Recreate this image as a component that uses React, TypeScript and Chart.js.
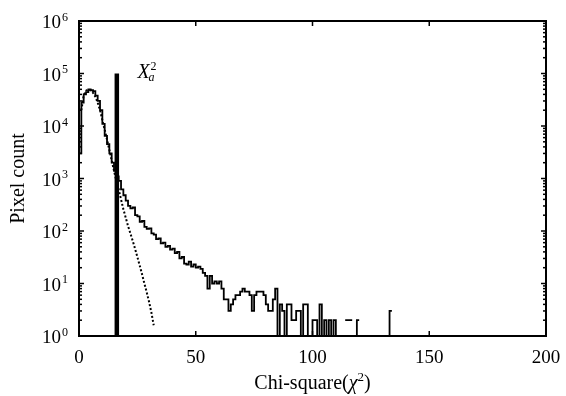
import { useEffect, useRef } from "react";
import { Chart, registerables } from "chart.js";

Chart.register(...registerables);

// ---------- data ----------
const binStart = 0;
const binWidth = 1;
// pixel counts per chi-square bin (0 = empty bin, not drawn on log axis)
const pixelCounts = [
  3000, 28000, 40000, 44000, 50000, 48000, 46000, 38000, 30000, 20000,
  11000, 6500, 4500, 3000, 2000, 1400, 1100, 900, 620, 480,
  380, 300, 270, 280, 200, 190, 150, 155, 120, 110,
  112, 90, 85, 70, 72, 58, 60, 50, 52, 44,
  46, 38, 40, 30, 32, 24, 23, 26, 21, 23,
  20, 21, 19, 16, 14, 8, 14, 10, 11, 10,
  11, 8, 5, 5, 3, 4, 5, 6, 6, 7,
  8, 7, 7, 6, 3, 6, 7, 7, 7, 6,
  4, 3, 3, 5, 8, 1, 4, 3, 1, 4,
  4, 2, 2, 3, 3, 1, 4, 4, 1, 1,
  2, 2, 1, 4, 1, 2, 1, 2, 1, 2,
  1, 0, 0, 0, 2, 2, 2, 0, 1, 2,
  0, 0, 0, 0, 0, 0, 0, 0, 0, 0,
  0, 0, 1, 3, 0,
];
// fitted chi-square distribution (dotted)
const fitX = [
  1, 2, 3, 4, 5, 6, 7, 8, 9, 10, 11, 12, 13, 14, 15, 16,
  17, 18, 19, 20, 21, 22, 23, 24, 25, 26, 27, 28, 29, 30, 31, 32,
];
const fitY = [
  20000, 38000, 47000, 50000, 48000, 43000, 36000, 28000, 20000, 13000, 8500,
  5500, 3500, 2200, 1400, 900, 620, 400, 260, 180, 125, 90, 65, 46, 32, 22, 15,
  10, 6.8, 4.5, 2.8, 1.6,
];
// threshold X_a^2
const thresholdX = 16.2;
const thresholdTop = 100000;
const labelAnchor = { x: 25, y: 82000 };

const xTickValues = [0, 50, 100, 150, 200];
const yExponents = [0, 1, 2, 3, 4, 5, 6];
const xMin = 0;
const xMax = 200;
const yMin = 1;
const yMax = 1000000;

const SERIF = '"Liberation Serif", "Times New Roman", serif';

function histogramPoints() {
  const pts: { x: number; y: number | null }[] = [];
  pixelCounts.forEach((c, i) => {
    const x0 = binStart + i * binWidth;
    const x1 = x0 + binWidth;
    if (c > 0) {
      pts.push({ x: x0, y: c });
      pts.push({ x: x1, y: c });
    } else {
      pts.push({ x: x0 + binWidth / 2, y: null });
    }
  });
  return pts;
}

const framePlugin = {
  id: "frameAndText",
  afterDatasetsDraw(chart: any) {
    const { ctx, chartArea: a, scales } = chart;
    const xs = scales.x;
    const ys = scales.y;
    ctx.save();
    ctx.strokeStyle = "#000";
    ctx.fillStyle = "#000";
    const line = (x1: number, y1: number, x2: number, y2: number) => {
      ctx.beginPath();
      ctx.moveTo(x1, y1);
      ctx.lineTo(x2, y2);
      ctx.stroke();
    };
    // ticks
    ctx.lineWidth = 1.5;
    for (const v of xTickValues) {
      const px = xs.getPixelForValue(v);
      line(px, a.bottom, px, a.bottom - 5);
      line(px, a.top, px, a.top + 5);
    }
    for (let e = 0; e < 6; e++) {
      for (let m = 1; m <= 9; m++) {
        const py = ys.getPixelForValue(m * Math.pow(10, e));
        const len = m === 1 ? 5 : 3;
        line(a.left, py, a.left + len, py);
        line(a.right, py, a.right - len, py);
      }
    }
    // frame
    ctx.lineWidth = 2;
    ctx.strokeRect(a.left, a.top, a.right - a.left, a.bottom - a.top);

    // x tick labels
    ctx.font = `19px ${SERIF}`;
    ctx.textAlign = "center";
    ctx.textBaseline = "alphabetic";
    for (const v of xTickValues) {
      ctx.fillText(String(v), xs.getPixelForValue(v), a.bottom + 27);
    }
    // y tick labels 10^n
    for (const e of yExponents) {
      const py = ys.getPixelForValue(Math.pow(10, e));
      const supX = a.left - 17;
      ctx.font = `19px ${SERIF}`;
      ctx.textAlign = "right";
      ctx.fillText("10", supX - 1, py + 7);
      ctx.font = `12px ${SERIF}`;
      ctx.textAlign = "left";
      ctx.fillText(String(e), supX, py - 0.5);
    }
    // x title
    const cx = (a.left + a.right) / 2;
    const base = a.bottom + 53;
    const parts = [
      { t: "Chi-square(", f: `20px ${SERIF}`, dy: 0 },
      { t: "\u03c7", f: `italic 20px ${SERIF}`, dy: 0 },
      { t: "2", f: `13px ${SERIF}`, dy: -8 },
      { t: ")", f: `20px ${SERIF}`, dy: 0 },
    ];
    let total = 0;
    for (const p of parts) {
      ctx.font = p.f;
      total += ctx.measureText(p.t).width;
    }
    let x = cx - total / 2;
    ctx.textAlign = "left";
    for (const p of parts) {
      ctx.font = p.f;
      ctx.fillText(p.t, x, base + p.dy);
      x += ctx.measureText(p.t).width;
    }
    // y title
    ctx.save();
    ctx.translate(19, (a.top + a.bottom) / 2);
    ctx.rotate(-Math.PI / 2);
    ctx.font = `20px ${SERIF}`;
    ctx.textAlign = "center";
    ctx.textBaseline = "middle";
    ctx.fillText("Pixel count", 0, 0);
    ctx.restore();

    // X_a^2 annotation
    const lx = xs.getPixelForValue(labelAnchor.x);
    const ly = ys.getPixelForValue(labelAnchor.y);
    ctx.textAlign = "left";
    ctx.textBaseline = "alphabetic";
    ctx.font = `italic 20px ${SERIF}`;
    ctx.fillText("X", lx, ly);
    const w = ctx.measureText("X").width;
    ctx.font = `12px ${SERIF}`;
    ctx.fillText("2", lx + w + 1, ly - 8);
    ctx.font = `italic 12px ${SERIF}`;
    ctx.fillText("a", lx + w - 1, ly + 3);
    ctx.restore();
  },
};

export default function App() {
  const ref = useRef<HTMLCanvasElement | null>(null);
  useEffect(() => {
    document.body.style.margin = "0";
    const canvas = ref.current;
    if (!canvas) return;
    const chart = new Chart(canvas, {
      type: "line",
      data: {
        datasets: [
          {
            label: "threshold",
            data: [
              { x: thresholdX, y: yMin },
              { x: thresholdX, y: thresholdTop },
            ],
            borderColor: "#000",
            borderWidth: 4.5,
            pointRadius: 0,
            borderCapStyle: "butt",
          },
          {
            label: "histogram",
            data: histogramPoints(),
            borderColor: "#000",
            borderWidth: 1.8,
            pointRadius: 0,
            spanGaps: false,
            tension: 0,
          },
          {
            label: "fit",
            data: fitX.map((v, i) => ({ x: v, y: fitY[i] })),
            borderColor: "#000",
            borderWidth: 2,
            borderDash: [2, 2],
            borderCapStyle: "butt",
            pointRadius: 0,
            tension: 0,
          },
        ],
      },
      options: {
        responsive: false,
        animation: false,
        parsing: true,
        layout: { padding: { left: 79, right: 20, top: 21, bottom: 60 } },
        plugins: { legend: { display: false }, tooltip: { enabled: false } },
        scales: {
          x: { type: "linear", min: xMin, max: xMax, display: false },
          y: { type: "logarithmic", min: yMin, max: yMax, display: false },
        },
      },
      plugins: [framePlugin],
    });
    return () => chart.destroy();
  }, []);
  return (
    <div style={{ width: 566, height: 396, background: "#fff" }}>
      <canvas ref={ref} width={566} height={396} />
    </div>
  );
}
